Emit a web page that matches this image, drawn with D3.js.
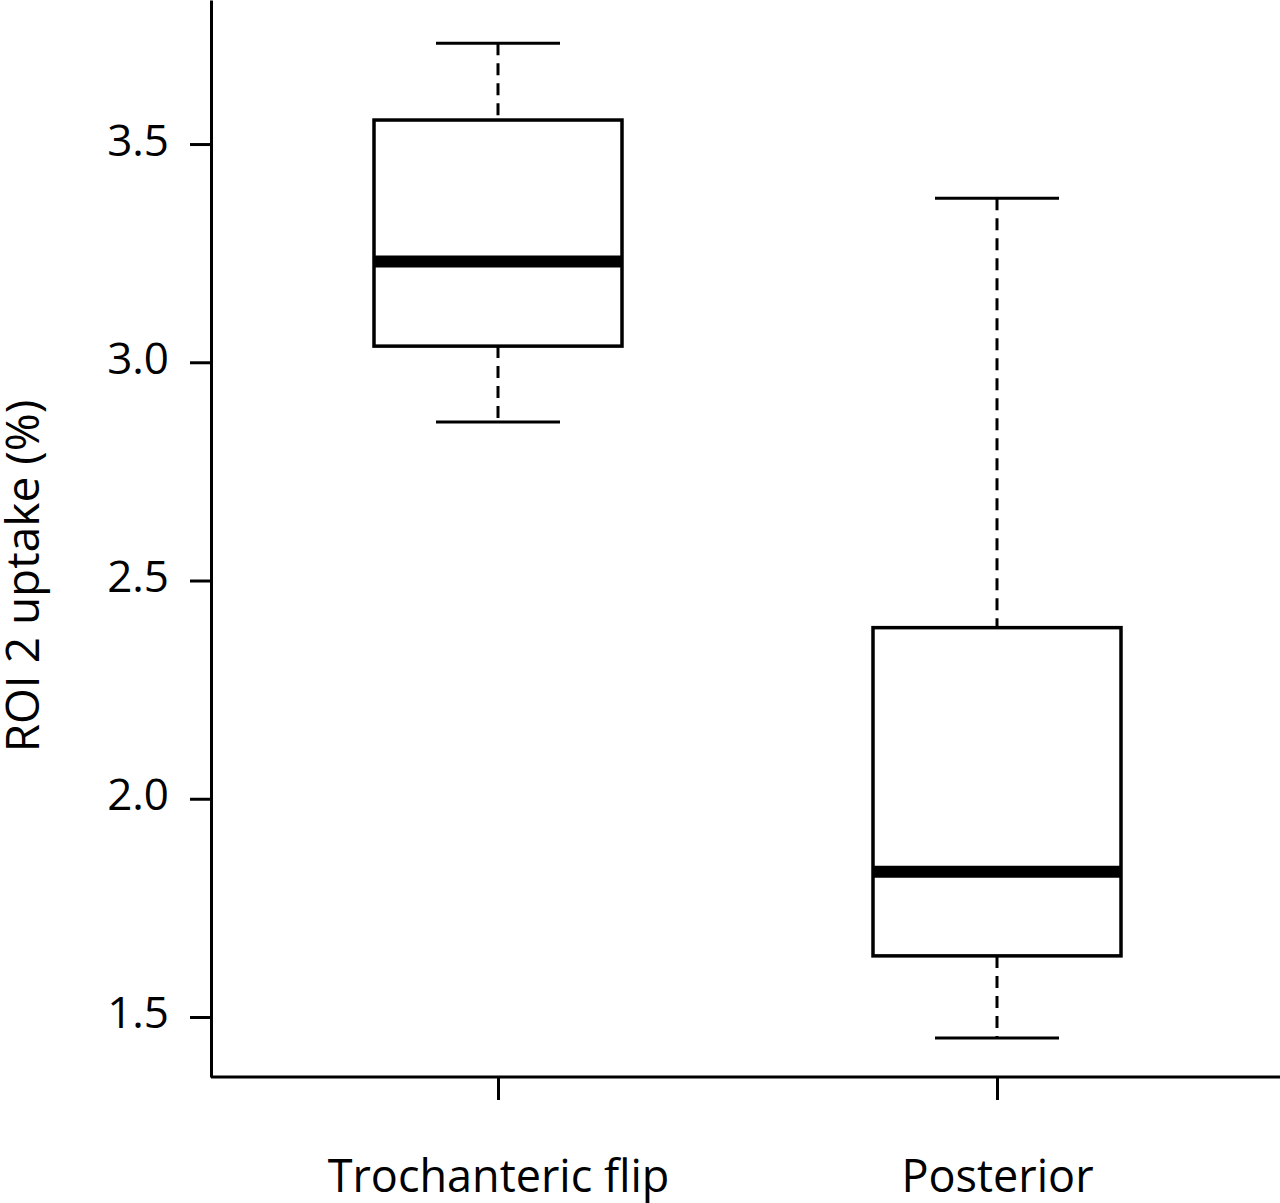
<!DOCTYPE html>
<html>
<head>
<meta charset="utf-8">
<script src="https://cdn.jsdelivr.net/npm/d3@7"></script>
<style>
  body { margin: 0; background: #fff; }
  text { font-family: "Open Sans", "Noto Sans", sans-serif; fill: #000; }
</style>
</head>
<body>
<svg id="chart"></svg>
<script>
var width = 1280,
    height = 1203,
    margin = {top: 0, right: 0, bottom: 126, left: 211};

// box summaries
let groups = ["Trochanteric flip", "Posterior"];
let whiskerLow = [2.863, 1.452];
let q1 = [3.037, 1.640];
let median = [3.231, 1.833];
let q3 = [3.555, 2.392];
let whiskerHigh = [3.731, 3.376];
let yTicks = [1.5, 2.0, 2.5, 3.0, 3.5];

let data = groups.map((g, i) => ({
    name: g, lo: whiskerLow[i], q1: q1[i], med: median[i], q3: q3[i], hi: whiskerHigh[i]
}));

let svg = d3.select("#chart")
    .attr("width", width)
    .attr("height", height);

let x = d3.scalePoint()
    .domain(groups)
    .range([498, 997]);

let y = d3.scaleLinear()
    .domain([1.3625, 3.83])
    .range([height - margin.bottom, margin.top]);

let boxW = 248, capW = 124;

// axes
let yAxis = svg.append("g")
    .attr("transform", `translate(${margin.left}, 0)`)
    .call(d3.axisLeft(y).tickValues(yTicks).tickFormat(d3.format(".1f")).tickSize(21).tickPadding(21).tickSizeOuter(0));
yAxis.select(".domain").attr("stroke-width", 3);
yAxis.selectAll(".tick line").attr("stroke-width", 3);
yAxis.selectAll(".tick text").style("font-size", "44px").attr("dy", "0.25em");

let xAxis = svg.append("g")
    .attr("transform", `translate(0, ${height - margin.bottom})`)
    .call(d3.axisBottom(x).tickSize(23).tickSizeOuter(0));
xAxis.select(".domain").attr("d", `M${margin.left},0H${width}`).attr("stroke-width", 3);
xAxis.selectAll(".tick line").attr("stroke-width", 3);
xAxis.selectAll(".tick text")
    .style("font-size", "45px")
    .attr("y", 115)
    .attr("dy", 0);

// Y axis label
svg.append("text")
    .attr("transform", `translate(39, 576) rotate(-90)`)
    .style("text-anchor", "middle")
    .style("font-size", "46px")
    .text("ROI 2 uptake (%)");

let boxes = svg.append("g").selectAll("g")
    .data(data)
    .join("g")
    .attr("transform", d => `translate(${x(d.name)}, 0)`);

// dashed whiskers
boxes.append("line")
    .attr("y1", d => y(d.hi)).attr("y2", d => y(d.q3))
    .attr("stroke", "#000").attr("stroke-width", 3).attr("stroke-dasharray", "12,8");
boxes.append("line")
    .attr("y1", d => y(d.q1)).attr("y2", d => y(d.lo))
    .attr("stroke", "#000").attr("stroke-width", 3).attr("stroke-dasharray", "12,8");

// caps
boxes.append("line")
    .attr("x1", -capW / 2).attr("x2", capW / 2)
    .attr("y1", d => y(d.hi)).attr("y2", d => y(d.hi))
    .attr("stroke", "#000").attr("stroke-width", 3);
boxes.append("line")
    .attr("x1", -capW / 2).attr("x2", capW / 2)
    .attr("y1", d => y(d.lo)).attr("y2", d => y(d.lo))
    .attr("stroke", "#000").attr("stroke-width", 3);

// box
boxes.append("rect")
    .attr("x", -boxW / 2)
    .attr("width", boxW)
    .attr("y", d => y(d.q3))
    .attr("height", d => y(d.q1) - y(d.q3))
    .attr("fill", "#fff").attr("stroke", "#000").attr("stroke-width", 3.5);

// median
boxes.append("line")
    .attr("x1", -boxW / 2).attr("x2", boxW / 2)
    .attr("y1", d => y(d.med)).attr("y2", d => y(d.med))
    .attr("stroke", "#000").attr("stroke-width", 12);
</script>
</body>
</html>
